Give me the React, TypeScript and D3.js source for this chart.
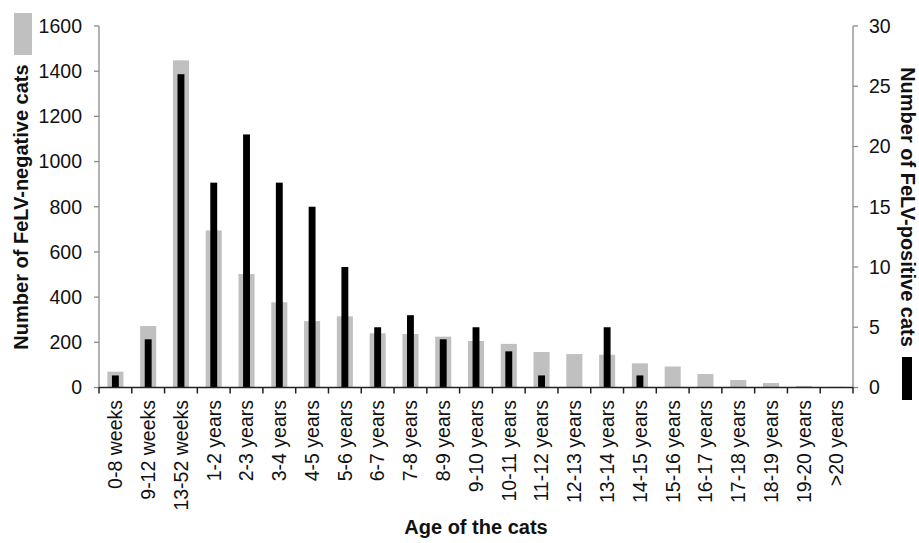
import React from "react";
import * as d3 from "d3";

const categories = [
  "0-8 weeks", "9-12 weeks", "13-52 weeks", "1-2 years", "2-3 years", "3-4 years",
  "4-5 years", "5-6 years", "6-7 years", "7-8 years", "8-9 years", "9-10 years",
  "10-11 years", "11-12 years", "12-13 years", "13-14 years", "14-15 years",
  "15-16 years", "16-17 years", "17-18 years", "18-19 years", "19-20 years", ">20 years",
];
const negativeCats = [70, 272, 1448, 695, 502, 377, 294, 315, 240, 237, 225, 206, 193, 157, 148, 145, 107, 93, 60, 33, 20, 7, 3];
const positiveCats = [1, 4, 26, 17, 21, 17, 15, 10, 5, 6, 4, 5, 3, 1, 0, 5, 1, 0, 0, 0, 0, 0, 0];
const leftTicks = [0, 200, 400, 600, 800, 1000, 1200, 1400, 1600];
const rightTicks = [0, 5, 10, 15, 20, 25, 30];

const W = 919, H = 543;
const L = 99, R = 853, T = 26, B = 387.5;
const FONT = "'Liberation Sans', Arial, sans-serif";

export default function App() {
  const x = d3.scaleBand<string>().domain(categories).range([L, R]).padding(0);
  const yL = d3.scaleLinear().domain([0, 1600]).range([B, T]);
  const yR = d3.scaleLinear().domain([0, 30]).range([B, T]);
  const bw = x.bandwidth();
  const gw = bw * 0.49;
  const kw = bw * 0.21;
  const axisGray = "#8a8a8a";
  const boundaries = d3.range(categories.length + 1).map((i) => L + i * bw);

  return (
    <div style={{ position: "fixed", left: 0, top: 0 }}>
      <svg width={W} height={H} style={{ display: "block", background: "#fff" }} fontFamily={FONT}>
        {/* gray bars */}
        {categories.map((c, i) => (
          <rect key={"g" + c} x={x(c)! + bw / 2 - gw / 2} y={yL(negativeCats[i])}
            width={gw} height={B - yL(negativeCats[i])} fill="#c0c0c0" />
        ))}
        {/* black bars */}
        {categories.map((c, i) => positiveCats[i] > 0 ? (
          <rect key={"k" + c} x={x(c)! + bw / 2 - kw / 2} y={yR(positiveCats[i])}
            width={kw} height={B - yR(positiveCats[i])} fill="#000" />
        ) : null)}

        {/* left axis */}
        <line x1={L} x2={L} y1={T} y2={B} stroke={axisGray} strokeWidth={1.3} />
        {leftTicks.map((t) => (
          <g key={"lt" + t}>
            <line x1={L - 5} x2={L} y1={yL(t)} y2={yL(t)} stroke={axisGray} strokeWidth={1.3} />
            <text x={82} y={yL(t)} dy="0.35em" textAnchor="end" fontSize={19.5} fill="#111">{t}</text>
          </g>
        ))}
        {/* right axis */}
        <line x1={R} x2={R} y1={T} y2={B} stroke={axisGray} strokeWidth={1.3} />
        {rightTicks.map((t) => (
          <g key={"rt" + t}>
            <line x1={R} x2={R + 5} y1={yR(t)} y2={yR(t)} stroke={axisGray} strokeWidth={1.3} />
            <text x={869} y={yR(t)} dy="0.35em" textAnchor="start" fontSize={19.5} fill="#111">{t}</text>
          </g>
        ))}
        {/* bottom axis */}
        <line x1={L} x2={R} y1={B} y2={B} stroke="#222" strokeWidth={1.5} />
        {boundaries.map((bx, i) => (
          <line key={"bt" + i} x1={bx} x2={bx} y1={B} y2={B + 6} stroke="#222" strokeWidth={1.5} />
        ))}
        {categories.map((c) => {
          const cx = x(c)! + bw / 2;
          return (
            <text key={"xl" + c} transform={`translate(${cx},400) rotate(-90)`} dy="0.35em"
              textAnchor="end" fontSize={19.5} fill="#111">{c}</text>
          );
        })}

        {/* axis titles */}
        <text transform={`translate(28,207) rotate(-90)`} textAnchor="middle" fontSize={20}
          fontWeight="bold" fill="#111">Number of FeLV-negative cats</text>
        <text transform={`translate(901,207) rotate(90)`} textAnchor="middle" fontSize={20}
          fontWeight="bold" fill="#111">Number of FeLV-positive cats</text>
        <text x={476} y={534} textAnchor="middle" fontSize={20} fontWeight="bold" fill="#111">Age of the cats</text>

        {/* legend swatches */}
        <rect x={14} y={13} width={18} height={42} fill="#c0c0c0" />
        <rect x={902} y={357} width={10} height={43} fill="#000" />
      </svg>
    </div>
  );
}
